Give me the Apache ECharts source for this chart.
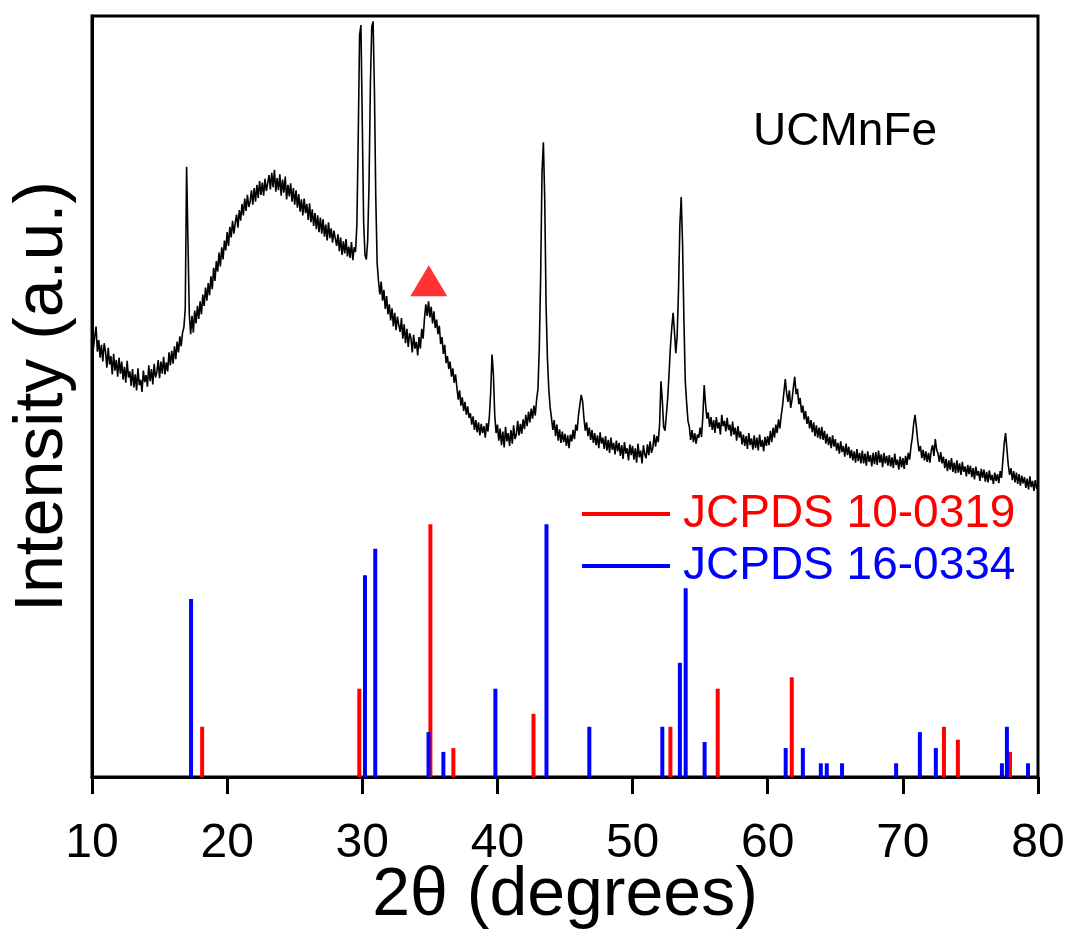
<!DOCTYPE html>
<html>
<head>
<meta charset="utf-8">
<script src="https://cdn.jsdelivr.net/npm/echarts@6/dist/echarts.min.js"></script>
<style>
  html, body { margin: 0; padding: 0; background: #fff; }
  #box { width: 1071px; height: 929px; }
</style>
</head>
<body>
<div id="box"></div>
<script>
// measured pattern, one value every 0.1 degree from 10 to 80 (one row per degree)
const scanStart = 10
const scanStep = 0.1
const intensity = [
  58.9, 56.3, 57.8, 59.2, 55.9, 57.4, 55.1, 56.8, 54.6, 57.0,   // 10
  55.9, 53.8, 56.4, 54.2, 55.3, 52.9, 55.6, 53.4, 54.8, 52.6,   // 11
  55.1, 53.0, 54.6, 52.2, 53.9, 51.8, 54.7, 52.5, 53.3, 51.4,   // 12
  53.6, 51.2, 52.9, 50.8, 53.7, 51.5, 52.2, 50.6, 53.4, 51.9,   // 13
  52.8, 51.3, 54.1, 52.0, 53.6, 51.6, 54.3, 52.5, 53.2, 54.8,   // 14
  52.4, 54.6, 53.0, 55.2, 52.9, 54.5, 53.3, 55.8, 54.1, 56.0,   // 15
  54.3, 56.6, 54.9, 57.2, 55.8, 57.9, 56.6, 58.4, 59.1, 61.5,   // 16
  80.2, 70.5, 60.8, 58.2, 60.6, 58.4, 61.3, 59.6, 61.9, 60.2,   // 17
  62.5, 60.8, 63.4, 61.9, 64.3, 62.6, 64.9, 63.3, 65.8, 64.1,   // 18
  66.9, 65.2, 67.8, 66.4, 68.9, 67.1, 69.6, 68.0, 70.5, 69.2,   // 19
  71.6, 69.8, 72.3, 70.9, 73.1, 71.4, 72.8, 73.9, 72.2, 74.5,   // 20
  73.1, 75.3, 73.8, 76.0, 74.4, 76.5, 74.9, 75.6, 77.1, 75.2,   // 21
  77.4, 75.6, 77.8, 76.1, 78.3, 76.5, 78.1, 76.4, 78.6, 77.0,   // 22
  76.8, 79.1, 77.2, 79.4, 77.5, 79.8, 76.9, 78.7, 77.1, 79.2,   // 23
  76.4, 78.5, 76.8, 78.9, 75.9, 77.8, 76.3, 78.0, 75.6, 77.4,   // 24
  75.2, 77.1, 74.8, 76.6, 74.3, 75.9, 73.8, 76.0, 74.1, 75.3,   // 25
  73.2, 75.4, 72.9, 74.6, 72.4, 74.1, 72.0, 73.8, 71.6, 73.5,   // 26
  71.4, 73.3, 71.0, 72.6, 70.5, 72.9, 70.8, 72.1, 70.2, 71.8,   // 27
  71.9, 69.8, 71.3, 69.1, 70.9, 68.6, 70.4, 68.8, 70.7, 68.4,   // 28
  69.7, 68.2, 70.3, 67.9, 69.6, 69.0, 72.5, 84.0, 97.5, 98.8,   // 29
  86.0, 73.0, 68.6, 68.0, 70.5, 78.0, 91.0, 98.6, 99.3, 90.0,   // 30
  76.0, 67.5, 65.2, 63.4, 65.1, 62.6, 64.0, 61.5, 63.2, 60.8,   // 31
  62.1, 60.0, 61.6, 59.2, 61.0, 58.7, 60.5, 59.4, 58.5, 60.3,   // 32
  57.6, 59.5, 57.0, 58.9, 56.5, 58.3, 57.7, 55.8, 58.1, 56.3,   // 33
  57.2, 55.4, 57.8, 56.3, 58.9, 57.6, 60.2, 62.1, 60.6, 62.5,   // 34
  60.4, 61.8, 59.6, 61.2, 59.0, 60.1, 58.2, 59.3, 56.9, 57.8,   // 35
  55.6, 56.8, 54.4, 55.3, 53.6, 54.6, 52.6, 53.7, 51.8, 52.9,   // 36
  51.2, 49.6, 50.8, 48.8, 49.9, 48.1, 49.3, 47.6, 48.7, 47.2,   // 37
  47.8, 46.3, 47.4, 45.6, 46.9, 45.3, 46.6, 44.9, 46.4, 45.2,   // 38
  46.1, 44.6, 46.5, 45.4, 47.3, 50.5, 55.5, 53.0, 47.6, 45.2,   // 39
  46.3, 44.2, 45.8, 43.6, 45.4, 43.3, 46.0, 44.1, 45.2, 43.5,   // 40
  45.6, 43.8, 46.2, 44.4, 45.0, 46.8, 44.9, 46.4, 45.1, 47.0,   // 41
  45.7, 47.6, 46.1, 48.0, 46.6, 48.4, 47.1, 48.8, 47.5, 49.6,   // 42
  51.0, 56.5, 66.0, 79.5, 83.4, 76.0, 62.0, 55.0, 51.0, 48.6,   // 43
  47.2, 45.6, 46.9, 44.8, 46.3, 44.2, 45.7, 43.9, 45.4, 44.0,   // 44
  45.1, 43.5, 44.9, 43.2, 45.0, 44.1, 45.6, 44.4, 46.3, 45.5,   // 45
  47.6, 48.9, 50.2, 49.4, 47.2, 45.5, 46.6, 44.8, 45.9, 44.3,   // 46
  45.6, 43.9, 45.2, 43.6, 44.9, 43.2, 45.3, 43.8, 44.6, 43.1,   // 47
  44.8, 42.9, 44.3, 42.6, 44.6, 43.0, 43.9, 42.4, 44.2, 42.8,   // 48
  43.9, 42.2, 43.6, 41.8, 44.0, 42.5, 43.2, 41.6, 43.7, 42.3,   // 49
  43.5, 41.7, 43.2, 41.3, 43.8, 42.0, 42.9, 41.2, 43.6, 42.4,   // 50
  41.9, 43.7, 42.3, 44.1, 42.6, 43.3, 45.0, 43.4, 44.8, 44.0,   // 51
  46.3, 52.0, 49.5, 46.0, 45.5, 47.6, 49.8, 53.0, 56.5, 59.0,   // 52
  61.0, 58.5, 55.7, 58.0, 64.0, 72.5, 76.2, 70.0, 60.0, 52.0,   // 53
  49.2, 46.8, 46.0, 44.3, 45.6, 44.0, 45.2, 43.8, 45.0, 44.6,   // 54
  45.9, 44.7, 47.4, 51.5, 49.0, 47.1, 47.9, 46.0, 47.3, 45.6,   // 55
  46.9, 45.2, 47.3, 45.8, 46.6, 45.0, 47.6, 46.1, 46.8, 45.4,   // 56
  47.2, 45.6, 46.3, 44.8, 46.7, 45.0, 45.9, 44.2, 46.1, 44.6,   // 57
  45.4, 43.7, 45.0, 43.5, 44.8, 43.1, 45.2, 43.6, 44.5, 43.0,   // 58
  44.9, 43.2, 44.6, 42.9, 45.0, 43.4, 44.3, 42.8, 44.7, 43.5,   // 59
  44.8, 43.6, 45.5, 44.0, 45.9, 44.6, 46.3, 45.2, 47.0, 45.8,   // 60
  47.5, 48.8, 50.6, 52.3, 50.4, 49.3, 50.8, 48.5, 49.6, 51.2,   // 61
  52.6, 50.3, 51.0, 49.0, 49.8, 47.9, 48.8, 47.0, 48.1, 46.4,   // 62
  47.4, 45.8, 46.9, 45.3, 46.6, 44.8, 46.2, 44.6, 45.9, 44.4,   // 63
  46.0, 44.3, 45.5, 43.8, 45.1, 43.6, 44.7, 43.2, 44.9, 43.4,   // 64
  44.4, 42.9, 43.9, 42.5, 44.1, 42.7, 43.5, 42.1, 43.8, 42.3,   // 65
  43.4, 41.9, 43.0, 41.6, 42.8, 41.3, 43.1, 41.5, 42.6, 41.2,   // 66
  42.9, 41.2, 42.5, 40.9, 42.8, 41.4, 42.3, 40.8, 42.6, 41.1,   // 67
  42.7, 41.0, 42.9, 41.3, 42.4, 40.7, 42.6, 41.2, 42.2, 40.9,   // 68
  42.3, 40.8, 42.0, 40.6, 42.5, 41.0, 41.7, 40.4, 42.1, 40.7,   // 69
  41.9, 40.5, 42.2, 41.0, 42.6, 41.7, 43.4, 44.6, 46.4, 47.6,   // 70
  46.0, 44.2, 42.8, 43.5, 41.9, 43.0, 41.6, 42.8, 41.4, 42.6,   // 71
  41.3, 42.9, 43.6, 42.2, 44.4, 43.0, 42.5, 41.4, 42.7, 41.2,   // 72
  42.1, 40.6, 41.8, 40.2, 41.6, 40.4, 41.9, 40.1, 41.3, 39.9,   // 73
  41.6, 40.0, 41.2, 39.7, 41.4, 40.1, 40.8, 39.5, 41.0, 39.8,   // 74
  40.9, 39.4, 40.6, 39.1, 40.8, 39.6, 40.2, 38.9, 40.5, 39.3,   // 75
  40.4, 38.8, 40.1, 38.7, 40.3, 39.0, 39.7, 38.5, 40.0, 38.9,   // 76
  39.8, 38.6, 40.2, 39.3, 41.6, 43.8, 45.2, 43.1, 41.0, 39.7,   // 77
  40.6, 39.0, 40.2, 38.7, 40.0, 38.5, 39.8, 38.3, 39.6, 38.6,   // 78
  39.4, 38.0, 39.2, 37.8, 39.5, 38.1, 38.9, 37.6, 39.0, 37.9,   // 79
  38.3                                                          // 80
]

// reference cards: [2theta, relative height]
const card10_0319 = [
  [18.15, 6.6], [29.78, 11.6], [35.04, 33.2], [36.74, 3.8], [42.67, 8.3],
  [52.8, 6.6], [56.3, 11.6], [61.78, 13.1], [73.04, 6.6], [74.07, 4.9], [77.93, 3.3]
]
const card16_0334 = [
  [17.33, 23.4], [30.2, 26.5], [30.96, 30.0], [34.9, 5.9], [36.0, 3.3],
  [39.85, 11.6], [43.63, 33.2], [46.8, 6.6], [52.2, 6.6], [53.5, 15.0],
  [53.93, 24.8], [55.33, 4.6], [61.33, 3.8], [62.6, 3.8], [63.93, 1.8],
  [64.37, 1.8], [65.5, 1.8], [69.5, 1.8], [71.26, 5.9], [72.44, 3.8],
  [77.33, 1.8], [77.7, 6.6], [79.26, 1.8]
]
const triangleMark = [[34.92, 65.2]]

const pattern = intensity.map((v, i) => [+(scanStart + i * scanStep).toFixed(1), v])

let myecharts = echarts.init(document.getElementById('box'))

function stick(params, api) {
  let a = api.coord([api.value(0), 0])
  let b = api.coord([api.value(0), api.value(1)])
  return {
    type: 'line',
    shape: {x1: a[0], y1: a[1], x2: b[0], y2: b[1]},
    style: {stroke: api.visual('color'), lineWidth: 4}
  }
}

let option = {
  animation: false,
  backgroundColor: '#fff',
  textStyle: {fontFamily: 'Liberation Sans'},
  grid: {
    left: 92, right: 33, top: 16, bottom: 152,
    outerBoundsMode: 'none', containLabel: false,
    show: true, borderColor: '#000', borderWidth: 3
  },
  legend: {
    orient: 'vertical',
    left: 577, top: 486,
    itemWidth: 88, itemHeight: 4, itemGap: 6,
    textStyle: {fontSize: 46, lineHeight: 46, padding: [0, 0, 0, 8]},
    data: [
      {name: 'JCPDS 10-0319', icon: 'rect', textStyle: {color: '#ff0000'}},
      {name: 'JCPDS 16-0334', icon: 'rect', textStyle: {color: '#0000ff'}}
    ]
  },
  xAxis: {
    type: 'value', min: 10, max: 80, interval: 10,
    name: '2θ (degrees)', nameLocation: 'middle', nameGap: 85, nameMoveOverlap: false,
    nameTextStyle: {fontSize: 68, color: '#000'},
    axisLine: {lineStyle: {color: '#000', width: 3}},
    axisTick: {length: 17, lineStyle: {color: '#000', width: 3}},
    axisLabel: {fontSize: 48, color: '#000', margin: 43},
    splitLine: {show: false}
  },
  yAxis: {
    type: 'value', min: 0, max: 100,
    name: 'Intensity (a.u.)', nameLocation: 'middle', nameGap: 15, nameMoveOverlap: false,
    nameTextStyle: {fontSize: 68, color: '#000'},
    axisLine: {show: true, lineStyle: {color: '#000', width: 3}},
    axisTick: {show: false},
    axisLabel: {show: false},
    splitLine: {show: false}
  },
  graphic: [{
    type: 'text', left: 753, top: 109,
    style: {text: 'UCMnFe', fontSize: 46, fill: '#000'}
  }],
  series: [
    {
      name: 'JCPDS 10-0319', type: 'custom', renderItem: stick,
      itemStyle: {color: '#ff0000'}, data: card10_0319
    },
    {
      name: 'JCPDS 16-0334', type: 'custom', renderItem: stick,
      itemStyle: {color: '#0000ff'}, data: card16_0334
    },
    {
      name: 'UCMnFe', type: 'line', data: pattern, showSymbol: false,
      lineStyle: {color: '#000', width: 1.6}, itemStyle: {color: '#000'}
    },
    {
      name: 'marker', type: 'scatter', data: triangleMark,
      symbol: 'triangle', symbolSize: [37, 31], itemStyle: {color: '#ff0000'}
    }
  ]
}
myecharts.setOption(option)
</script>
</body>
</html>
